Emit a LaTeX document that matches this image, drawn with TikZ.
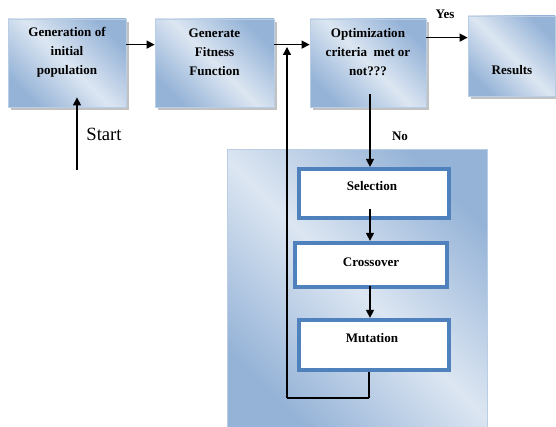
\documentclass[tikz,border=0pt]{standalone}
\usepackage{fontspec}
\setmainfont{Liberation Serif}
\usetikzlibrary{arrows.meta,shadows}
\definecolor{lite}{HTML}{DCE6F2}
\definecolor{darkb}{HTML}{95B3D7}
\definecolor{edgeb}{HTML}{B9CDE5}
\definecolor{acc}{HTML}{4F81BD}
\begin{document}
\begin{tikzpicture}[x=0.75pt,y=-0.75pt,
  gbox/.style={rectangle, draw=edgeb, line width=0.6pt, top color=darkb, bottom color=darkb, middle color=lite, shading angle=-45, inner sep=0pt,
    drop shadow={shadow xshift=2.2pt, shadow yshift=-2.2pt, fill=black!40, opacity=0.6}},
  panel/.style={rectangle, draw=edgeb, line width=0.6pt, top color=darkb, bottom color=darkb, middle color=lite, shading angle=-45, inner sep=0pt},
  sbox/.style={rectangle, draw=acc, line width=2.8pt, fill=white, inner sep=0pt},
  btxt/.style={font=\fontsize{9.8}{14.25}\selectfont\bfseries, align=center, inner sep=0pt, text=black},
  arr/.style={draw=black, line width=1pt, -{Triangle[length=6pt,width=6pt]}},
  ln/.style={draw=black, line width=1pt}]
\useasboundingbox (0,0) rectangle (556,427);

% panel
\node[panel, minimum width=195pt, minimum height=210pt, anchor=north west] (pan) at (227,149) {};

% top boxes
\node[gbox, minimum width=88.5pt, minimum height=66pt] (b1) at (67,63) {};
\node[gbox, minimum width=89.25pt, minimum height=66pt] (b2) at (214.5,63) {};
\node[gbox, minimum width=87pt, minimum height=66pt] (b3) at (368,63) {};
\node[gbox, minimum width=65.25pt, minimum height=60pt] (b4) at (511.5,56) {};

\node[btxt] (t1) at (67,52) {Generation of\\initial\\population};
\node[btxt] (t2) at (214.5,52) {Generate\\Fitness\\Function};
\node[btxt] (t3) at (368,52) {Optimization\\criteria\ \ met or\\not???};
\node[btxt] (t4) at (512,70) {Results};

% feedback loop line
\coordinate (fbc) at (287,398);
\coordinate (fbtip) at (287,47);
\coordinate (mx) at (369,0);
\draw[ln] (fbc) -- (mx |- fbc);

% inner boxes
\node[sbox, minimum width=112.9pt, minimum height=37.1pt] (sel) at (374,193.5) {};
\node[sbox, minimum width=114.4pt, minimum height=33.4pt] (cro) at (371,265) {};
\node[sbox, minimum width=112.9pt, minimum height=37.9pt] (mut) at (374,345) {};
\foreach \n in {sel,cro,mut}{
  \draw[acc, line width=0.7pt] ([shift={(3pt,-3pt)}]\n.north west) rectangle ([shift={(-3pt,3pt)}]\n.south east);
}
\node[btxt] (ts) at (372,186) {Selection};
\node[btxt] (tc) at (371,262) {Crossover};
\node[btxt] (tm) at (372,338) {Mutation};

% connectors
\coordinate (colx) at (370,0);
\draw[arr] ([yshift=-19.5pt]b1.north east) coordinate (a1) -- (a1 -| b2.west);
\draw[ln] ([yshift=-19.5pt]b2.north east) coordinate (a2) -- (a2 -| fbtip);
\draw[arr] (a2 -| fbtip) -- (a2 -| b3.west);
\draw[arr] ([yshift=-14.25pt]b3.north east) coordinate (a3) -- (a3 -| b4.west);
\draw[arr] ([yshift=9.75pt]b3.south -| colx) -- (sel.north -| colx);
\draw[arr] ([yshift=8.5pt]sel.south -| colx) -- (cro.north -| colx);
\draw[arr] ([yshift=2pt]cro.south -| colx) -- (mut.north -| colx);
\draw[ln] (mut.south -| mx) -- (mx |- fbc);
\draw[arr] (fbc) -- (fbtip);

% start
\coordinate (st) at (77,170);
\draw[arr] (st) -- ([yshift=7.5pt]b1.south -| st);
\node[font=\fontsize{14}{16}\selectfont, inner sep=0pt] (start) at (104,134) {Start};

% labels
\node[font=\fontsize{9.8}{12}\selectfont\bfseries, inner sep=0pt] (yes) at (445,14) {Yes};
\node[font=\fontsize{9.8}{12}\selectfont\bfseries, inner sep=0pt] (no) at (400,136) {No};
\end{tikzpicture}
\end{document}
